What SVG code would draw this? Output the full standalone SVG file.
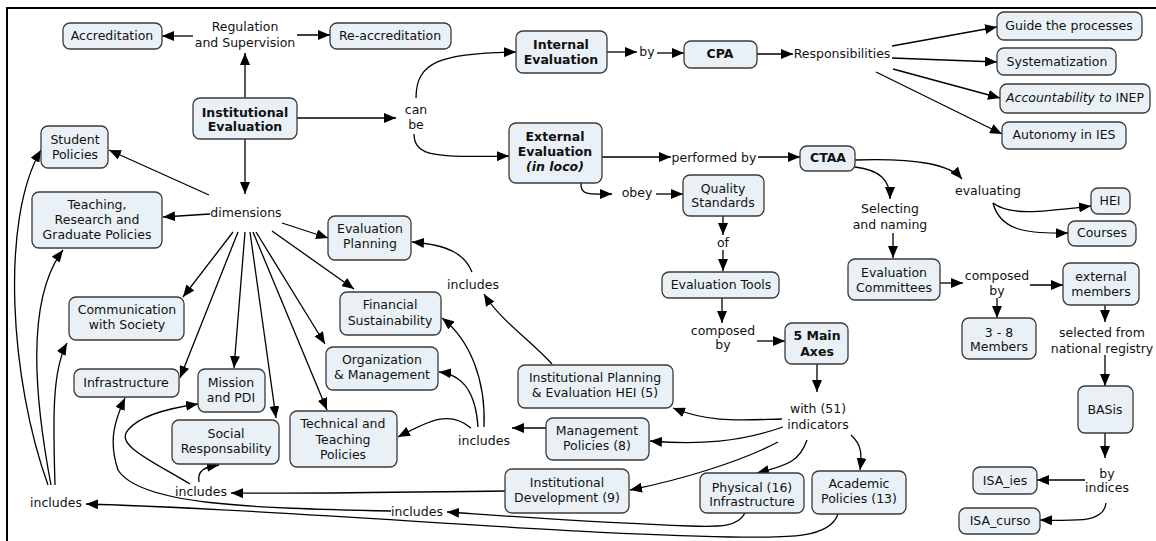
<svg xmlns="http://www.w3.org/2000/svg" width="1156" height="541" viewBox="0 0 1156 541">
<defs>
<marker id="ah" markerUnits="userSpaceOnUse" markerWidth="12" markerHeight="10" refX="12" refY="5" orient="auto">
<path d="M0,0 L12,5 L0,10 z" fill="#000"/>
</marker>
<style>
.n rect{fill:#e9f1f6;stroke:#3a3a3a;stroke-width:1.3}
text{font-family:"DejaVu Sans",Verdana,sans-serif;font-size:12.5px;fill:#111;text-anchor:middle}
.b{font-weight:bold}
.i{font-style:italic}
#connectors path{fill:none;stroke:#000;stroke-width:1.3;marker-end:url(#ah)}
</style>
</defs>
<rect x="7" y="8" width="1160" height="545" fill="#fff" stroke="#000" stroke-width="2"/>

<g id="connectors">
<path d="M245,98 L245,53"/>
<path d="M193,36 L162,36"/>
<path d="M297,35 L330,35"/>
<path d="M297,118 L396,118"/>
<path d="M245,139 L245,194"/>
<path d="M416,98 C416,62 440,53 516,52"/>
<path d="M414,134 C414,158 440,157 509,156"/>
<path d="M607,52 L637,52"/>
<path d="M657,53 L684,53"/>
<path d="M757,54 L793,54"/>
<path d="M892,46 L997,27"/>
<path d="M892,58 L997,62"/>
<path d="M893,69 L1000,98"/>
<path d="M876,72 L1002,134"/>
<path d="M602,157 L671,157"/>
<path d="M758,157 L800,157"/>
<path d="M855,160 C920,158 950,165 962,179"/>
<path d="M855,167 C880,170 890,180 890,199"/>
<path d="M993,203 C1010,216 1040,212 1091,206"/>
<path d="M993,203 C1000,230 1025,234 1068,233"/>
<path d="M893,233 L893,258"/>
<path d="M940,283 L963,283"/>
<path d="M1030,285 L1063,285"/>
<path d="M997,298 L997,318"/>
<path d="M1105,305 L1105,322"/>
<path d="M1105,355 L1105,386"/>
<path d="M1105,433 L1105,458"/>
<path d="M1085,480 L1037,480"/>
<path d="M1106,503 C1104,522 1080,521 1040,520"/>
<path d="M581,183 C580,196 590,194 612,194"/>
<path d="M656,194 L683,194"/>
<path d="M723,216 L723,235"/>
<path d="M723,250 L723,271"/>
<path d="M722,298 L722,323"/>
<path d="M757,341 L785,341"/>
<path d="M817,364 L817,392"/>
<path d="M782,419 C740,420 710,423 673,408"/>
<path d="M783,427 C740,442 700,445 650,441"/>
<path d="M778,442 C740,462 680,480 630,490"/>
<path d="M807,440 C800,460 790,465 757,473"/>
<path d="M851,435 C862,445 862,455 860,470"/>
<path d="M546,428 L512,428"/>
<path d="M471,428 C450,410 430,420 398,437"/>
<path d="M478,427 C476,395 465,375 439,372"/>
<path d="M484,427 C486,380 470,340 442,318"/>
<path d="M552,364 C530,340 500,320 484,294"/>
<path d="M472,272 C465,255 450,245 412,242"/>
<path d="M209,195 L109,150"/>
<path d="M210,214 L163,217"/>
<path d="M282,223 L328,238"/>
<path d="M233,232 L183,297"/>
<path d="M272,231 L354,289"/>
<path d="M256,232 L325,344"/>
<path d="M238,232 L180,378"/>
<path d="M245,232 L234,368"/>
<path d="M250,232 L276,418"/>
<path d="M253,232 L327,410"/>
<path d="M505,491 C400,492 300,494 231,493"/>
<path d="M199,482 C197,470 205,467 219,465"/>
<path d="M190,484 C150,460 115,445 128,430 C140,415 170,408 198,404"/>
<path d="M745,513 C738,527 720,527 690,526 C600,523 520,517 447,512"/>
<path d="M391,511 C250,508 140,505 118,470 C108,440 115,420 125,398"/>
<path d="M838,514 C830,538 790,538 730,537 C550,534 300,510 86,504"/>
<path d="M55,485 C53,420 52,370 67,343"/>
<path d="M51,485 C35,400 25,300 63,250"/>
<path d="M48,485 C10,380 0,220 41,150"/>
</g>

<g id="labels">
<text x="245" y="31">Regulation</text>
<text x="245" y="47">and Supervision</text>
<text x="416" y="114">can</text>
<text x="416" y="129">be</text>
<text x="246" y="217">dimensions</text>
<text x="647" y="56">by</text>
<text x="842" y="58">Responsibilities</text>
<text x="714" y="162">performed by</text>
<text x="988" y="195">evaluating</text>
<text x="890" y="213">Selecting</text>
<text x="890" y="229">and naming</text>
<text x="997" y="280">composed</text>
<text x="997" y="295">by</text>
<text x="1102" y="337">selected from</text>
<text x="1102" y="353">national registry</text>
<text x="1107" y="478">by</text>
<text x="1107" y="492">indices</text>
<text x="637" y="197">obey</text>
<text x="723" y="247">of</text>
<text x="723" y="335">composed</text>
<text x="723" y="349">by</text>
<text x="818" y="413">with (51)</text>
<text x="818" y="429">indicators</text>
<text x="484" y="445">includes</text>
<text x="473" y="289">includes</text>
<text x="417" y="516">includes</text>
<text x="201" y="496">includes</text>
<text x="56" y="507">includes</text>
</g>

<g id="accreditation" class="n"><rect x="63" y="23" width="99" height="26" rx="7"/><text x="112" y="40">Accreditation</text></g>
<g id="reaccreditation" class="n"><rect x="330" y="23" width="121" height="26" rx="7"/><text x="390" y="40">Re-accreditation</text></g>
<g id="institutional-evaluation" class="n"><rect x="193" y="98" width="104" height="41" rx="7"/><text class="b" x="245" y="117">Institutional</text><text class="b" x="245" y="131">Evaluation</text></g>
<g id="internal-evaluation" class="n"><rect x="516" y="31" width="91" height="42" rx="7"/><text class="b" x="561" y="49">Internal</text><text class="b" x="561" y="64">Evaluation</text></g>
<g id="cpa" class="n"><rect x="684" y="41" width="73" height="27" rx="7"/><text class="b" x="720" y="58">CPA</text></g>
<g id="guide" class="n"><rect x="997" y="12" width="145" height="28" rx="7"/><text x="1069" y="30">Guide the processes</text></g>
<g id="systematization" class="n"><rect x="997" y="48" width="119" height="27" rx="7"/><text x="1057" y="66">Systematization</text></g>
<g id="accountability" class="n"><rect x="1000" y="84" width="150" height="29" rx="7"/><text x="1075" y="102"><tspan class="i">Accountability to</tspan> INEP</text></g>
<g id="autonomy" class="n"><rect x="1002" y="122" width="124" height="27" rx="7"/><text x="1064" y="139">Autonomy in IES</text></g>
<g id="external-evaluation" class="n"><rect x="509" y="123" width="93" height="60" rx="7"/><text class="b" x="555" y="141">External</text><text class="b" x="555" y="156">Evaluation</text><text class="b i" x="555" y="171">(in loco)</text></g>
<g id="ctaa" class="n"><rect x="800" y="146" width="55" height="25" rx="7"/><text class="b" x="828" y="162">CTAA</text></g>
<g id="hei" class="n"><rect x="1091" y="188" width="39" height="26" rx="7"/><text x="1110" y="205">HEI</text></g>
<g id="courses" class="n"><rect x="1068" y="221" width="68" height="25" rx="7"/><text x="1102" y="237">Courses</text></g>
<g id="evaluation-committees" class="n"><rect x="848" y="259" width="92" height="41" rx="7"/><text x="894" y="277">Evaluation</text><text x="894" y="292">Committees</text></g>
<g id="external-members" class="n"><rect x="1063" y="263" width="76" height="42" rx="7"/><text x="1101" y="281">external</text><text x="1101" y="296">members</text></g>
<g id="members-3-8" class="n"><rect x="962" y="318" width="74" height="41" rx="7"/><text x="999" y="337">3 - 8</text><text x="999" y="351">Members</text></g>
<g id="basis" class="n"><rect x="1078" y="386" width="55" height="47" rx="7"/><text x="1105" y="414">BASis</text></g>
<g id="isa-ies" class="n"><rect x="973" y="467" width="64" height="27" rx="7"/><text x="1005" y="485">ISA_ies</text></g>
<g id="isa-curso" class="n"><rect x="959" y="508" width="81" height="26" rx="7"/><text x="1000" y="525">ISA_curso</text></g>
<g id="quality-standards" class="n"><rect x="683" y="175" width="81" height="41" rx="7"/><text x="723" y="193">Quality</text><text x="723" y="207">Standards</text></g>
<g id="evaluation-tools" class="n"><rect x="662" y="272" width="117" height="26" rx="7"/><text x="721" y="289">Evaluation Tools</text></g>
<g id="main-axes" class="n"><rect x="785" y="323" width="63" height="41" rx="7"/><text class="b" x="817" y="340">5 Main</text><text class="b" x="817" y="356">Axes</text></g>
<g id="inst-planning" class="n"><rect x="518" y="365" width="155" height="43" rx="7"/><text x="595" y="382">Institutional Planning</text><text x="595" y="397">&amp; Evaluation HEI (5)</text></g>
<g id="management-policies" class="n"><rect x="546" y="418" width="103" height="42" rx="7"/><text x="597" y="435">Management</text><text x="597" y="450">Policies (8)</text></g>
<g id="inst-development" class="n"><rect x="505" y="469" width="124" height="44" rx="7"/><text x="567" y="487">Institutional</text><text x="567" y="502">Development (9)</text></g>
<g id="physical-infrastructure" class="n"><rect x="700" y="473" width="104" height="40" rx="7"/><text x="752" y="492">Physical (16)</text><text x="752" y="506">Infrastructure</text></g>
<g id="academic-policies" class="n"><rect x="812" y="471" width="94" height="43" rx="7"/><text x="859" y="488">Academic</text><text x="859" y="503">Policies (13)</text></g>
<g id="evaluation-planning" class="n"><rect x="328" y="216" width="83" height="44" rx="7"/><text x="370" y="233">Evaluation</text><text x="370" y="248">Planning</text></g>
<g id="financial" class="n"><rect x="340" y="292" width="101" height="43" rx="7"/><text x="390" y="309">Financial</text><text x="390" y="325">Sustainability</text></g>
<g id="organization" class="n"><rect x="326" y="347" width="112" height="43" rx="7"/><text x="382" y="364">Organization</text><text x="382" y="379">&amp; Management</text></g>
<g id="technical" class="n"><rect x="290" y="411" width="107" height="56" rx="7"/><text x="343" y="428">Technical and</text><text x="343" y="444">Teaching</text><text x="343" y="459">Policies</text></g>
<g id="social" class="n"><rect x="172" y="420" width="107" height="44" rx="7"/><text x="226" y="438">Social</text><text x="226" y="453">Responsability</text></g>
<g id="mission" class="n"><rect x="198" y="369" width="67" height="43" rx="7"/><text x="231" y="387">Mission</text><text x="231" y="402">and PDI</text></g>
<g id="infrastructure" class="n"><rect x="74" y="369" width="105" height="28" rx="7"/><text x="126" y="387">Infrastructure</text></g>
<g id="communication" class="n"><rect x="69" y="297" width="115" height="43" rx="7"/><text x="127" y="314">Communication</text><text x="127" y="329">with Society</text></g>
<g id="teaching" class="n"><rect x="32" y="192" width="130" height="56" rx="7"/><text x="97" y="209">Teaching,</text><text x="97" y="224">Research and</text><text x="97" y="239">Graduate Policies</text></g>
<g id="student" class="n"><rect x="41" y="126" width="67" height="42" rx="7"/><text x="75" y="144">Student</text><text x="75" y="159">Policies</text></g>
</svg>
